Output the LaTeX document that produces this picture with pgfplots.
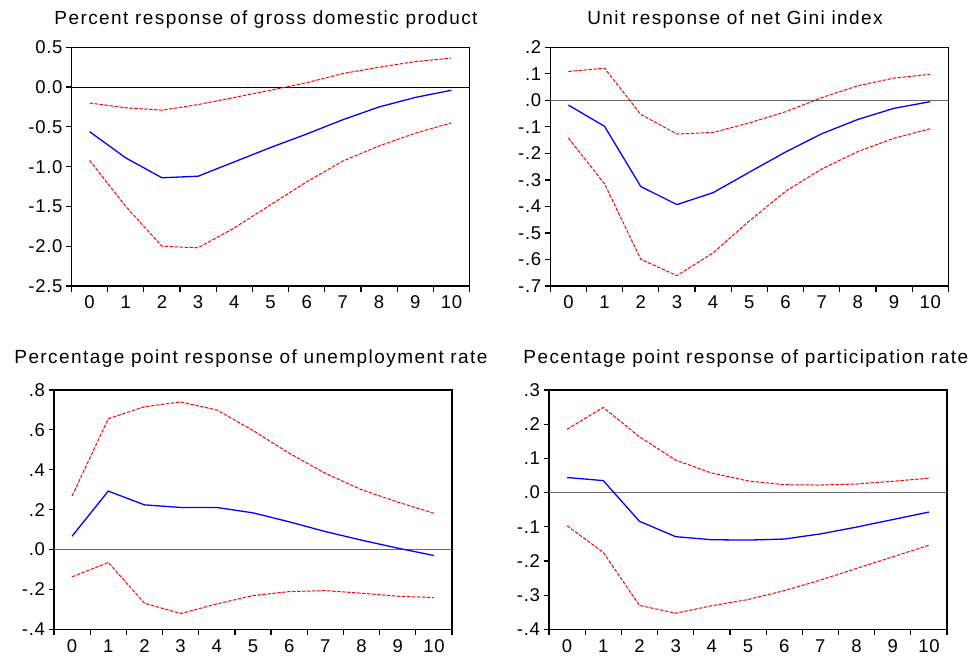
\documentclass[border=0pt]{standalone}
\usepackage{pgfplots}
\pgfplotsset{compat=1.18}
\usepackage{fontspec}
\setmainfont{Liberation Sans}
\newfontfamily\titlefont[LetterSpace=7.5]{Liberation Sans}
\newfontfamily\tickfont[LetterSpace=4]{Liberation Sans}
\definecolor{zerogray}{RGB}{105,105,105}
\pgfplotsset{
  irf/.style={
    scale only axis,
    width=398pt, height=238.7pt,
    anchor=south west,
    xmin=-0.5, xmax=10.5,
    xtick={0,...,10},
    xticklabels={0,1,2,3,4,5,6,7,8,9,10},
    minor xtick={-0.5,0.5,...,10.5},
    major x tick style={draw=none},
    major tick length=5.5pt, minor tick length=5.5pt,
    tick align=outside,
    xtick pos=left, ytick pos=left,
    axis line style={line width=1.3pt},
    tick style={black, line width=1.2pt},
    tick label style={font=\tickfont\fontsize{18.5}{20}\selectfont},
    xticklabel style={yshift=-1pt},
    clip=false,
  },
  up/.style={red, line width=1pt, dash pattern=on 3.5pt off 1.5pt},
  lo/.style={red, line width=1pt, dash pattern=on 3.5pt off 1.5pt},
  mid/.style={blue, line width=1.3pt},
}
\begin{document}
\begin{tikzpicture}[x=1pt,y=1pt]
\path[use as bounding box] (0,0) rectangle (974,657);
% Top left: GDP
\begin{axis}[irf, at={(71.5pt,371pt)},
  ymin=-2.5, ymax=0.5, ytick={-2.5,-2,-1.5,-1,-0.5,0,0.5},
  yticklabels={-2.5,-2.0,-1.5,-1.0,-0.5,0.0,0.5}]
\addplot[black, line width=0.9pt] coordinates {(-0.5,0) (10.5,0)};
\addplot[up] coordinates {(0,-0.20) (1,-0.26) (2,-0.29) (3,-0.22) (4,-0.13) (5,-0.04) (6,0.055) (7,0.17) (8,0.25) (9,0.32) (10,0.365)};
\addplot[lo] coordinates {(0,-0.92) (1,-1.50) (2,-2.00) (3,-2.02) (4,-1.77) (5,-1.48) (6,-1.19) (7,-0.93) (8,-0.74) (9,-0.58) (10,-0.45)};
\addplot[mid] coordinates {(0,-0.56) (1,-0.89) (2,-1.14) (3,-1.12) (4,-0.94) (5,-0.76) (6,-0.59) (7,-0.41) (8,-0.25) (9,-0.13) (10,-0.04)};
\end{axis}
% Top right: Gini
\begin{axis}[irf, at={(550.3pt,371pt)},
  ymin=-0.7, ymax=0.2, ytick={-0.7,-0.6,-0.5,-0.4,-0.3,-0.2,-0.1,0,0.1,0.2},
  yticklabels={-.7,-.6,-.5,-.4,-.3,-.2,-.1,.0,.1,.2}]
\addplot[zerogray, line width=1.2pt] coordinates {(-0.5,0) (10.5,0)};
\addplot[up] coordinates {(0,0.109) (1,0.121) (2,-0.053) (3,-0.127) (4,-0.121) (5,-0.085) (6,-0.043) (7,0.010) (8,0.055) (9,0.084) (10,0.098)};
\addplot[lo] coordinates {(0,-0.142) (1,-0.315) (2,-0.599) (3,-0.661) (4,-0.575) (5,-0.455) (6,-0.343) (7,-0.259) (8,-0.193) (9,-0.143) (10,-0.107)};
\addplot[mid] coordinates {(0,-0.018) (1,-0.098) (2,-0.325) (3,-0.393) (4,-0.348) (5,-0.271) (6,-0.195) (7,-0.126) (8,-0.072) (9,-0.030) (10,-0.005)};
\end{axis}
% Bottom left: unemployment
\begin{axis}[irf, at={(54pt,27.7pt)}, height=239.3pt,
  ymin=-0.4, ymax=0.8, ytick={-0.4,-0.2,0,0.2,0.4,0.6,0.8},
  yticklabels={-.4,-.2,.0,.2,.4,.6,.8}]
\addplot[zerogray, line width=1.2pt] coordinates {(-0.5,0) (10.5,0)};
\addplot[up] coordinates {(0,0.269) (1,0.656) (2,0.716) (3,0.740) (4,0.700) (5,0.597) (6,0.483) (7,0.382) (8,0.300) (9,0.238) (10,0.182)};
\addplot[lo] coordinates {(0,-0.137) (1,-0.065) (2,-0.269) (3,-0.321) (4,-0.273) (5,-0.231) (6,-0.211) (7,-0.206) (8,-0.219) (9,-0.234) (10,-0.241)};
\addplot[mid] coordinates {(0,0.067) (1,0.293) (2,0.224) (3,0.211) (4,0.211) (5,0.184) (6,0.139) (7,0.090) (8,0.047) (9,0.007) (10,-0.030)};
\end{axis}
% Bottom right: participation
\begin{axis}[irf, at={(549pt,27.7pt)}, height=239.3pt,
  ymin=-0.4, ymax=0.3, ytick={-0.4,-0.3,-0.2,-0.1,0,0.1,0.2,0.3},
  yticklabels={-.4,-.3,-.2,-.1,.0,.1,.2,.3}]
\addplot[zerogray, line width=1.2pt] coordinates {(-0.5,0) (10.5,0)};
\addplot[up] coordinates {(0,0.185) (1,0.249) (2,0.163) (3,0.095) (4,0.057) (5,0.034) (6,0.023) (7,0.022) (8,0.025) (9,0.033) (10,0.042)};
\addplot[lo] coordinates {(0,-0.097) (1,-0.175) (2,-0.330) (3,-0.353) (4,-0.331) (5,-0.313) (6,-0.287) (7,-0.256) (8,-0.222) (9,-0.188) (10,-0.154)};
\addplot[mid] coordinates {(0,0.044) (1,0.035) (2,-0.084) (3,-0.129) (4,-0.138) (5,-0.139) (6,-0.136) (7,-0.121) (8,-0.101) (9,-0.079) (10,-0.057)};
\end{axis}
% Titles
\begin{scope}[every node/.style={anchor=base, inner sep=0pt, font=\titlefont\fontsize{19}{21}\selectfont}]
\node at (266,632) {Percent response of gross domestic product};
\node at (735,632) {Unit response of net Gini index};
\node at (251,293.7) {Percentage point response of unemployment rate};
\node at (745.8,293.7) {Pecentage point response of participation rate};
\end{scope}
\end{tikzpicture}
\end{document}
